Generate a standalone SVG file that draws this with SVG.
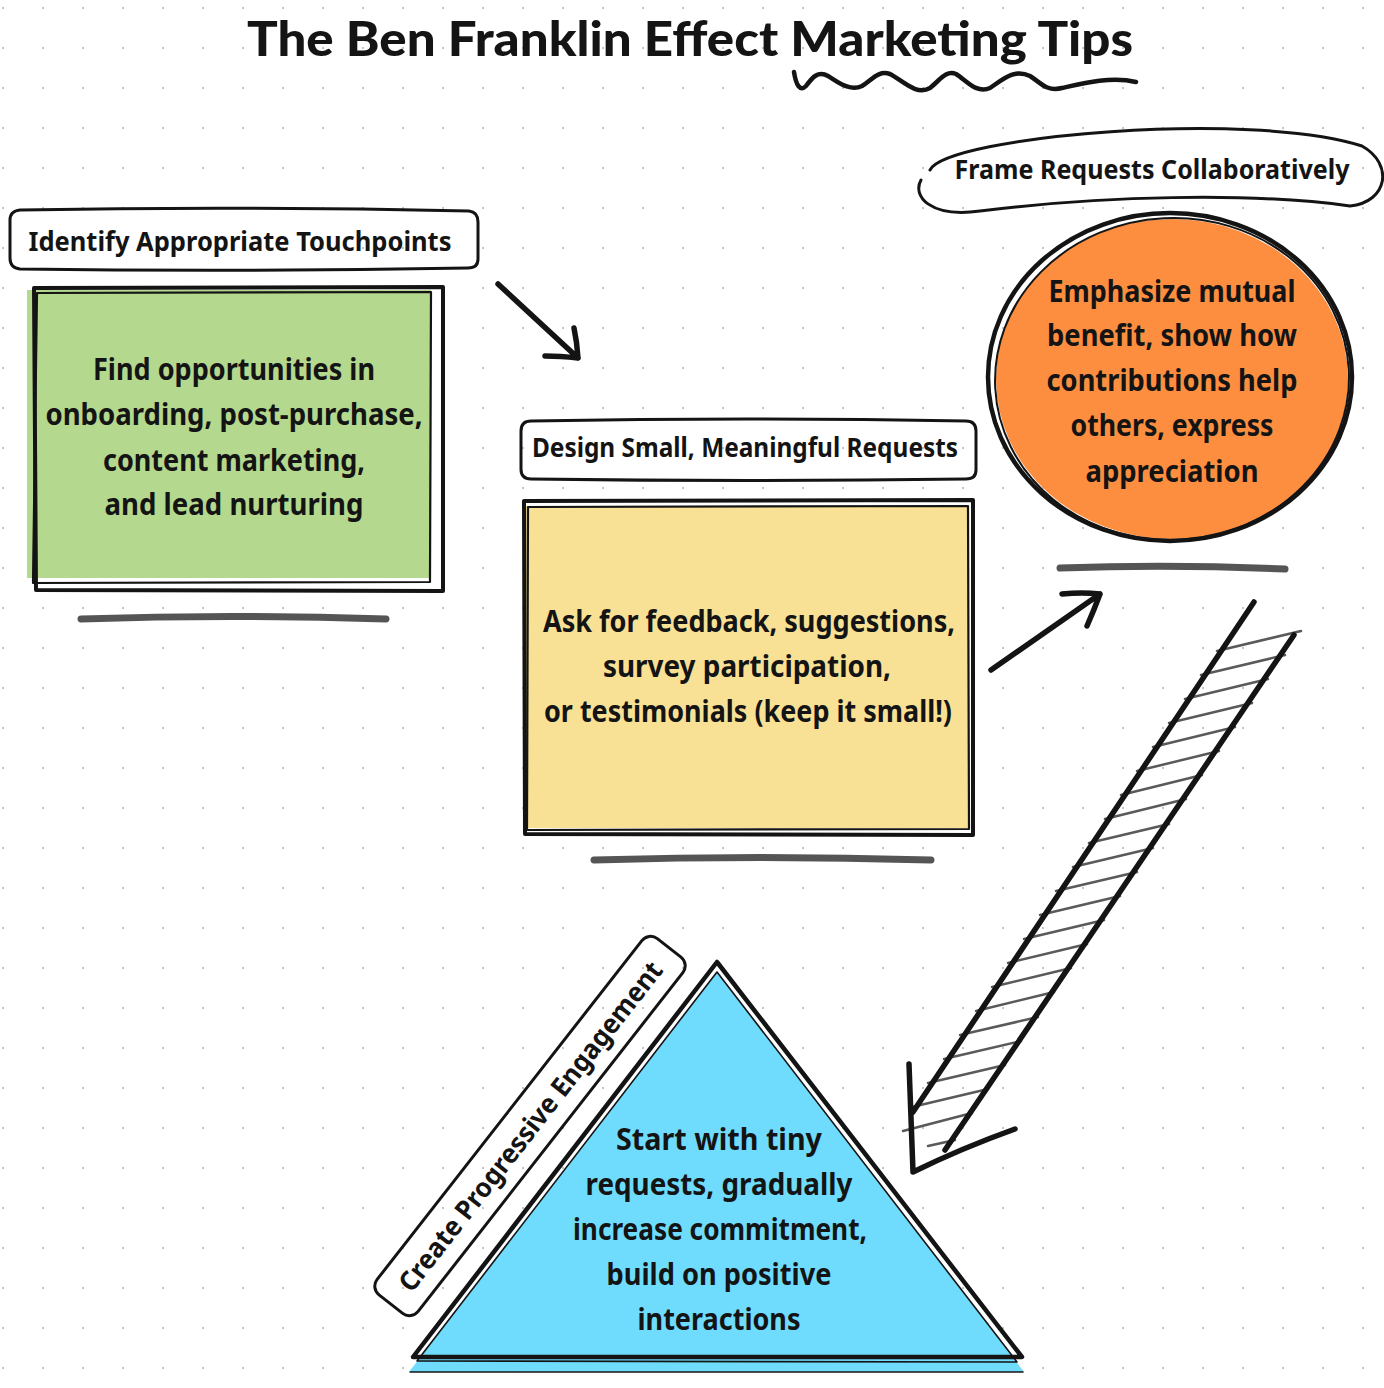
<svg xmlns="http://www.w3.org/2000/svg" width="1384" height="1388" viewBox="0 0 1384 1388">
<defs>
<pattern id="dots" x="0" y="0" width="40" height="40" patternUnits="userSpaceOnUse">
<rect x="2" y="7" width="2" height="2" fill="#c4c4c4"/>
</pattern>
<style>
.hand{font-family:"Noto Sans","Open Sans",sans-serif;font-weight:700;fill:#141414;text-anchor:middle}
.body{font-size:31px}
.lbl{font-size:27px}
.title{font-family:Lato,"Inter",sans-serif;font-weight:900;font-size:48px;fill:#141414;text-anchor:middle}
.ink{fill:none;stroke:#141414;stroke-linecap:round;stroke-linejoin:round}
.shadow{fill:none;stroke:#555555;stroke-width:7;stroke-linecap:round}
.hatch{fill:none;stroke:#5a5a5a;stroke-width:2.5;stroke-linecap:round}
</style>
</defs>
<rect width="1384" height="1388" fill="#ffffff"/>
<rect width="1384" height="1388" fill="url(#dots)"/>

<g id="title">
<text class="title" x="690" y="56" textLength="886" lengthAdjust="spacingAndGlyphs">The Ben Franklin Effect Marketing Tips</text>
<path class="ink" stroke-width="4.5" d="M794,72 C796,85 800,92 806,86 C812,78 818,70 828,76 C838,82 850,92 862,86 C872,80 878,70 890,74 C902,80 916,96 930,88 C940,80 946,70 956,74 C966,80 976,94 990,88 C1002,80 1014,68 1030,76 C1040,82 1046,92 1062,88 C1080,84 1110,76 1136,82"/>
</g>

<g id="node-touchpoints-label">
<path class="ink" stroke-width="3" fill="#ffffff" d="M20,210 Q240,206 469,211 Q478,212 478,222 L478,259 Q478,268 468,268 Q240,272 20,269 Q10,268 10,258 L10,220 Q10,211 20,210 Z"/>
<text class="hand lbl" x="240" y="251" textLength="423" lengthAdjust="spacingAndGlyphs">Identify Appropriate Touchpoints</text>
</g>

<g id="node-touchpoints">
<rect x="27" y="290" width="404" height="288" fill="#b4d88e"/>
<path class="ink" stroke-width="4" d="M34,288 L443,287 L443,591 L36,590 Z"/>
<path class="ink" stroke-width="2.2" d="M37,293 L431,292 L430,582 L33,583 Z"/>
<text class="hand body" x="234" y="380" textLength="282" lengthAdjust="spacingAndGlyphs">Find opportunities in</text>
<text class="hand body" x="234" y="425" textLength="377" lengthAdjust="spacingAndGlyphs">onboarding, post-purchase,</text>
<text class="hand body" x="234" y="471" textLength="262" lengthAdjust="spacingAndGlyphs">content marketing,</text>
<text class="hand body" x="234" y="515" textLength="259" lengthAdjust="spacingAndGlyphs">and lead nurturing</text>
<path class="shadow" d="M81,619 Q230,614 386,619"/>
</g>

<g id="node-requests-label">
<path class="ink" stroke-width="3" fill="#ffffff" d="M531,421 Q748,417 966,421 Q976,421 976,431 L976,470 Q976,479 966,479 Q748,482 531,479 Q521,479 521,469 L521,431 Q521,421 531,421 Z"/>
<text class="hand lbl" x="745" y="457" textLength="426" lengthAdjust="spacingAndGlyphs">Design Small, Meaningful Requests</text>
</g>

<g id="node-requests">
<rect x="526" y="506" width="443" height="322" fill="#f8e195"/>
<path class="ink" stroke-width="4" d="M524,501 L973,500 L973,835 L525,834 Z"/>
<path class="ink" stroke-width="2.2" d="M528,507 L968,506 L969,829 L527,830 Z"/>
<text class="hand body" x="749" y="632" textLength="412" lengthAdjust="spacingAndGlyphs">Ask for feedback, suggestions,</text>
<text class="hand body" x="747" y="677" textLength="288" lengthAdjust="spacingAndGlyphs">survey participation,</text>
<text class="hand body" x="748" y="722" textLength="408" lengthAdjust="spacingAndGlyphs">or testimonials (keep it small!)</text>
<path class="shadow" d="M594,860 Q760,855 931,860"/>
</g>

<g id="node-frame-label">
<path class="ink" stroke-width="3" fill="#ffffff" d="M930,170 C948,136 1250,110 1362,146 C1394,164 1388,202 1350,206 C1250,192 1100,196 980,211 C930,218 912,196 921,180"/>
<text class="hand lbl" x="1152" y="179" textLength="395" lengthAdjust="spacingAndGlyphs">Frame Requests Collaboratively</text>
</g>

<g id="node-frame">
<ellipse cx="1172" cy="379" rx="176" ry="160" fill="#fd8e3f"/>
<ellipse class="ink" stroke-width="4.5" cx="1170" cy="377" rx="182" ry="164"/>
<ellipse class="ink" stroke-width="2" cx="1172" cy="379" rx="177" ry="161" transform="rotate(-3 1172 379)"/>
<text class="hand body" x="1172" y="302" textLength="247" lengthAdjust="spacingAndGlyphs">Emphasize mutual</text>
<text class="hand body" x="1172" y="346" textLength="250" lengthAdjust="spacingAndGlyphs">benefit, show how</text>
<text class="hand body" x="1172" y="391" textLength="251" lengthAdjust="spacingAndGlyphs">contributions help</text>
<text class="hand body" x="1172" y="436" textLength="203" lengthAdjust="spacingAndGlyphs">others, express</text>
<text class="hand body" x="1172" y="482" textLength="173" lengthAdjust="spacingAndGlyphs">appreciation</text>
<path class="shadow" d="M1060,568 Q1170,564 1285,569"/>
</g>

<g id="node-engagement">
<polygon points="717,972 409,1372 1024,1372" fill="#6fdcfd"/>
<path class="ink" stroke-width="1.4" d="M410,1372 L1023,1372"/>
<path class="ink" stroke-width="4.5" d="M717,962 L1022,1357 L413,1357 Z"/>
<path class="ink" stroke-width="1.6" d="M717,972 L1017,1362 L417,1361 Z"/>
<text class="hand body" x="719" y="1150" textLength="206" lengthAdjust="spacingAndGlyphs">Start with tiny</text>
<text class="hand body" x="719" y="1195" textLength="267" lengthAdjust="spacingAndGlyphs">requests, gradually</text>
<text class="hand body" x="720" y="1240" textLength="294" lengthAdjust="spacingAndGlyphs">increase commitment,</text>
<text class="hand body" x="719" y="1285" textLength="225" lengthAdjust="spacingAndGlyphs">build on positive</text>
<text class="hand body" x="719" y="1330" textLength="163" lengthAdjust="spacingAndGlyphs">interactions</text>
</g>

<g id="node-engagement-label" transform="translate(530,1126) rotate(-52)">
<rect x="-226" y="-26" width="452" height="52" rx="11" class="ink" stroke-width="3" fill="#ffffff"/>
<text class="hand lbl" x="0" y="10" textLength="410" lengthAdjust="spacingAndGlyphs">Create Progressive Engagement</text>
</g>

<g id="connectors">
<path class="ink" stroke-width="5.5" d="M498,284 L578,358 M574,328 Q577,342 578,358 Q560,356 545,356"/>
<path class="ink" stroke-width="5.5" d="M991,670 L1100,594 M1062,594 Q1082,592 1100,594 Q1094,610 1087,626"/>
<g id="big-arrow">
<path class="hatch" d="M1217,651 L1301,631 M1201,675 L1285,655 M1185,699 L1268,679 M1169,723 L1252,703 M1153,747 L1235,727 M1137,771 L1219,751 M1121,795 L1202,775 M1105,819 L1186,799 M1089,843 L1169,824 M1073,867 L1153,848 M1056,891 L1137,872 M1040,915 L1120,896 M1024,939 L1104,920 M1008,963 L1087,944 M992,987 L1071,968 M976,1011 L1054,992 M960,1035 L1038,1017 M944,1059 L1021,1041 M928,1083 L1005,1065 M912,1107 L988,1089 M903,1131 L972,1113 M928,1146 L955,1140"/>
<path class="ink" stroke-width="5.5" d="M1254,602 L913,1112 M1294,635 L945,1150"/>
<path class="ink" stroke-width="5.5" d="M909,1064 Q911,1120 913,1172 Q962,1148 1015,1129"/>
</g>
</g>
</svg>
